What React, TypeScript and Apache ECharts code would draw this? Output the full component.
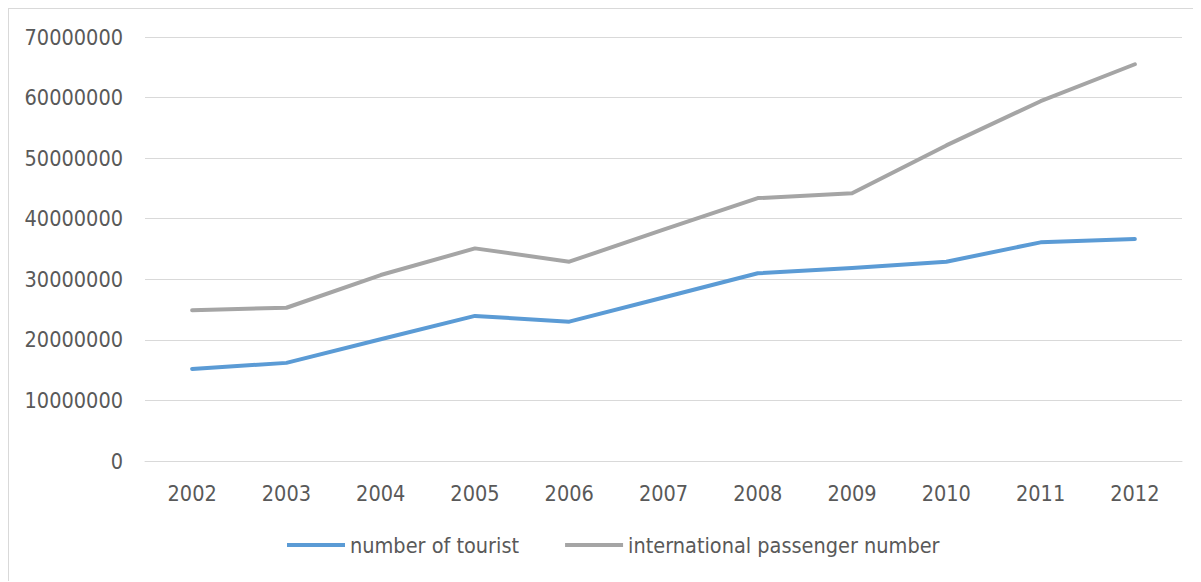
import React, { useEffect, useRef } from "react";
import * as echarts from "echarts";

const years = ["2002", "2003", "2004", "2005", "2006", "2007", "2008", "2009", "2010", "2011", "2012"];
const tourists = [15200000, 16200000, 20100000, 23950000, 23000000, 27000000, 31000000, 31850000, 32900000, 36100000, 36650000];
const passengers = [24900000, 25300000, 30700000, 35100000, 32900000, 38200000, 43400000, 44200000, 52100000, 59400000, 65500000];
const seriesNames = ["number of tourist", "international passenger number"];

const FONT = "'DejaVu Sans Condensed', 'Liberation Sans Narrow', sans-serif";
const FS = 21.5;

export default function App() {
  const ref = useRef<HTMLDivElement>(null);
  useEffect(() => {
    if (!ref.current) return;
    const chart = echarts.init(ref.current, undefined, { renderer: "svg" });
    chart.setOption({
      animation: false,
      textStyle: { fontFamily: FONT },
      grid: { left: 136, top: 28, width: 1037, height: 424, containLabel: false, outerBoundsMode: "none" },
      legend: {
        left: 278,
        top: 525,
        padding: 0,
        itemWidth: 58,
        itemHeight: 4,
        itemGap: 46,
        textStyle: { fontFamily: FONT, fontSize: FS, color: "#595959" },
        data: seriesNames.map((n) => ({ name: n, icon: "rect" })),
      },
      xAxis: {
        type: "category",
        data: years,
        boundaryGap: true,
        axisLine: { lineStyle: { color: "#d9d9d9", width: 1 } },
        axisTick: { show: false },
        axisLabel: { color: "#595959", fontSize: FS, fontFamily: FONT, margin: 21 },
      },
      yAxis: {
        type: "value",
        min: 0,
        max: 70000000,
        interval: 10000000,
        axisLine: { show: false },
        axisTick: { show: false },
        splitLine: { lineStyle: { color: "#d9d9d9", width: 1 } },
        axisLabel: {
          color: "#595959",
          fontSize: FS,
          fontFamily: FONT,
          margin: 22,
          formatter: (v: number) => String(v),
        },
      },
      series: [
        {
          name: seriesNames[0],
          type: "line",
          data: tourists,
          symbol: "none",
          lineStyle: { color: "#5b9bd5", width: 4, cap: "round", join: "round" },
          itemStyle: { color: "#5b9bd5" },
        },
        {
          name: seriesNames[1],
          type: "line",
          data: passengers,
          symbol: "none",
          lineStyle: { color: "#a5a5a5", width: 4, cap: "round", join: "round" },
          itemStyle: { color: "#a5a5a5" },
        },
      ],
    });
    return () => chart.dispose();
  }, []);
  return (
    <div
      style={{
        width: 1193,
        height: 574,
        borderTop: "2px solid #d9d9d9",
        borderLeft: "2px solid #d9d9d9",
        boxSizing: "border-box",
        marginLeft: -1,
        marginTop: -1,
      }}
    >
      <div ref={ref} style={{ width: 1191, height: 572 }} />
    </div>
  );
}
